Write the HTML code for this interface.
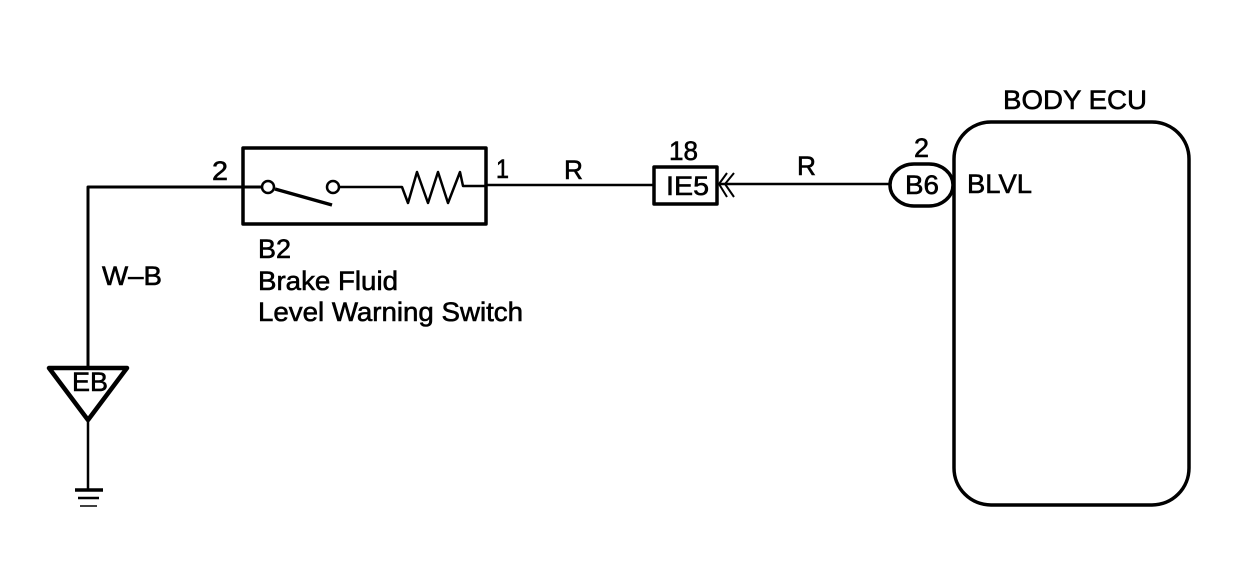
<!DOCTYPE html>
<html>
<head>
<meta charset="utf-8">
<style>
html,body{margin:0;padding:0;background:#fff;width:1248px;height:562px;overflow:hidden}
svg{display:block}
text{font-family:"Liberation Sans",sans-serif;font-size:27px;fill:#000;stroke:#000;stroke-width:.6px}
</style>
</head>
<body>
<svg width="1248" height="562" viewBox="0 0 1248 562" xmlns="http://www.w3.org/2000/svg">
<g fill="none" stroke="#000" stroke-linejoin="round">
  <!-- left wire -->
  <path d="M88 367V187H242" stroke-width="3"/>
  <!-- switch box -->
  <rect x="243" y="148" width="243" height="76" stroke-width="3.5"/>
  <!-- switch -->
  <path d="M242 187H262" stroke-width="3"/>
  <circle cx="268" cy="187" r="6" stroke-width="2.5" fill="#fff"/>
  <circle cx="333" cy="187" r="6" stroke-width="2.5"/>
  <path d="M275 189L332 205" stroke-width="3.5"/>
  <path d="M339 187H402L408 203L417 172L428 203L438 172L448 203L460 172L463 186H486" stroke-width="2.5"/>
  <!-- wire 1 to IE5 -->
  <path d="M486 185H653" stroke-width="2.5"/>
  <rect x="654" y="167" width="63" height="37" stroke-width="3.5"/>
  <!-- arrows -->
  <path d="M727 173L719 184L727 197M734 173L725 184L734 197" stroke-width="2"/>
  <path d="M719 184H890" stroke-width="2.5"/>
  <!-- ECU -->
  <rect x="954" y="122" width="235" height="383" rx="37" ry="37" stroke-width="3.5"/>
  <!-- B6 connector -->
  <rect x="890" y="164" width="63" height="42" rx="24" ry="21" stroke-width="3.5" fill="#fff"/>
  <!-- ground -->
  <path d="M49 368H127L88 420Z" stroke-width="4.5"/>
  <path d="M88 421V489" stroke-width="2.5"/>
  <path d="M75 490H103" stroke-width="3.5"/>
  <path d="M78 498H99" stroke-width="2.5"/>
  <path d="M80 506H97" stroke-width="1.5"/>
</g>
<text x="212" y="180" textLength="16" lengthAdjust="spacingAndGlyphs">2</text>
<text x="496" y="178" textLength="13" lengthAdjust="spacingAndGlyphs">1</text>
<text x="564" y="179" textLength="19" lengthAdjust="spacingAndGlyphs">R</text>
<text x="797" y="175" textLength="19" lengthAdjust="spacingAndGlyphs">R</text>
<text x="669" y="160" textLength="29" lengthAdjust="spacingAndGlyphs">18</text>
<text x="666" y="195" textLength="43" lengthAdjust="spacingAndGlyphs">IE5</text>
<text x="914" y="157" textLength="15" lengthAdjust="spacingAndGlyphs">2</text>
<text x="905" y="194" textLength="34" lengthAdjust="spacingAndGlyphs">B6</text>
<text x="967" y="193" textLength="65" lengthAdjust="spacingAndGlyphs">BLVL</text>
<text x="1003" y="109" textLength="144" lengthAdjust="spacingAndGlyphs">BODY ECU</text>
<text x="102" y="285" textLength="60" lengthAdjust="spacingAndGlyphs">W–B</text>
<text x="258" y="258" textLength="33" lengthAdjust="spacingAndGlyphs">B2</text>
<text x="258" y="290" textLength="140" lengthAdjust="spacingAndGlyphs">Brake Fluid</text>
<text x="258" y="321" textLength="265" lengthAdjust="spacingAndGlyphs">Level Warning Switch</text>
<text x="72" y="391" textLength="36" lengthAdjust="spacingAndGlyphs">EB</text>
</svg>
</body>
</html>
